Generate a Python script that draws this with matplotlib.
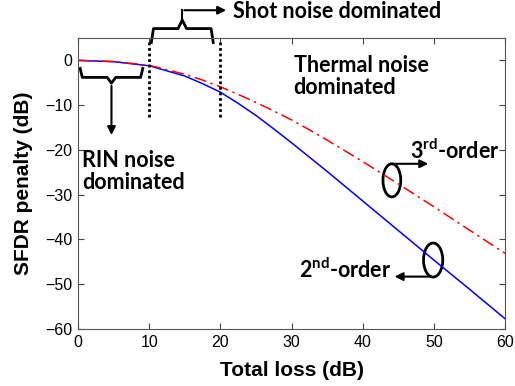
from matplotlib import pyplot as plt
from matplotlib.patches import Ellipse
import numpy as np

plt.rcParams['font.family'] = 'Liberation Sans'
plt.rcParams['mathtext.fontset'] = 'custom'
plt.rcParams['mathtext.bf'] = 'Lato:bold'

# total loss (dB) and SFDR penalty (dB)
loss = [0, 5, 10, 15, 17.5, 20, 22.5, 25, 27.5, 30, 32.5, 35, 40, 45, 50, 55, 60]
second_order = [0, -0.3, -1.2, -3.5, -5.2, -7.1, -9.6, -12.3, -15.3, -18.4, -21.6, -24.8,
                -31.4, -38.0, -44.6, -51.1, -57.7]
third_order = [0, -0.25, -1.1, -3.1, -4.4, -5.9, -7.6, -9.4, -11.3, -13.3, -15.5, -17.8,
               -22.6, -27.6, -32.7, -37.9, -43.1]

# noise regime boundaries
regime_edges = [10, 20]

annot_font = 'Lato'
annot_size = 15.5

fig = plt.figure(figsize=(5.15, 3.86), dpi=100)
ax = fig.add_axes([0.1515, 0.1477, 0.8291, 0.7539])

ax.plot(loss, second_order, color='#0000ff', lw=1.1)
ax.plot(loss, third_order, color='#ff0000', lw=1.1, ls=(0, (8, 3, 1.5, 3)))

ax.set_xlim(0, 60)
ax.set_ylim(-60, 5)
ax.set_xticks(np.arange(0, 61, 10))
ax.set_yticks(np.arange(-60, 1, 10))
ax.tick_params(direction='in', top=True, right=True, labelsize=11.5, length=4, colors='#444444',
               labelcolor='black', pad=4)
for s in ax.spines.values():
    s.set_color('#555555')
    s.set_linewidth(0.8)

ax.set_xlabel('Total loss (dB)', fontsize=15, fontweight='bold', labelpad=8)
ax.set_ylabel('SFDR penalty (dB)', fontsize=15, fontweight='bold', labelpad=9)

# dotted regime boundaries
for xe in regime_edges:
    ax.plot([xe, xe], [4.2, -13], color='black', ls=(0, (1, 1)), lw=2, clip_on=False)


def brace(x1, x2, y_tip, y_h, y_cusp):
    xm = (x1 + x2) / 2
    d = 0.6
    xs = [x1, x1 + d * 0.5, xm - d, xm, xm + d, x2 - d * 0.5, x2]
    ys = [y_tip, y_h, y_h, y_cusp, y_h, y_h, y_tip]
    ax.plot(xs, ys, color='black', lw=2, clip_on=False, solid_joinstyle='round')
    return xm


# shot noise brace above the axes
xm = brace(10.3, 19.0, 4.0, 7.1, 9.0)
ax.plot([xm, xm], [9.0, 11.2], color='black', lw=1.5, clip_on=False)
ax.annotate('', xy=(21.2, 11.2), xytext=(xm - 0.1, 11.2),
            arrowprops=dict(arrowstyle='-|>', color='black', lw=1.5, mutation_scale=12),
            annotation_clip=False)
ax.text(21.8, 10.9, 'Shot noise dominated', fontsize=annot_size, fontweight='bold',
        family=annot_font, va='center', ha='left', clip_on=False)

# RIN brace below the curve
xm = brace(0.3, 9.1, -1.8, -3.8, -5.1)
ax.annotate('', xy=(xm, -17.3), xytext=(xm, -5.1),
            arrowprops=dict(arrowstyle='-|>', color='black', lw=1.5, mutation_scale=12))
ax.text(0.6, -20.0, 'RIN noise\ndominated', fontsize=annot_size, fontweight='bold',
        family=annot_font, va='top', ha='left', linespacing=1.05)

ax.text(30.3, 1.2, 'Thermal noise\ndominated', fontsize=annot_size, fontweight='bold',
        family=annot_font, va='top', ha='left', linespacing=1.05)

# order labels with ellipses
ax.add_patch(Ellipse((44.1, -26.8), 2.5, 7.4, fill=False, ec='black', lw=2))
ax.annotate('', xy=(49.6, -23.1), xytext=(44.1, -23.1),
            arrowprops=dict(arrowstyle='-|>', color='black', lw=1.5, mutation_scale=12))
ax.text(46.6, -20.2, r'3$^{\mathbf{rd}}$-order', fontsize=annot_size, fontweight='bold',
        family=annot_font, va='center', ha='left')

ax.add_patch(Ellipse((49.9, -44.6), 2.7, 7.6, fill=False, ec='black', lw=2))
ax.annotate('', xy=(44.1, -48.3), xytext=(49.9, -48.3),
            arrowprops=dict(arrowstyle='-|>', color='black', lw=1.5, mutation_scale=12))
ax.text(44.0, -46.9, r'2$^{\mathbf{nd}}$-order', fontsize=annot_size, fontweight='bold',
        family=annot_font, va='center', ha='right')

plt.savefig('out.png', dpi=100)
